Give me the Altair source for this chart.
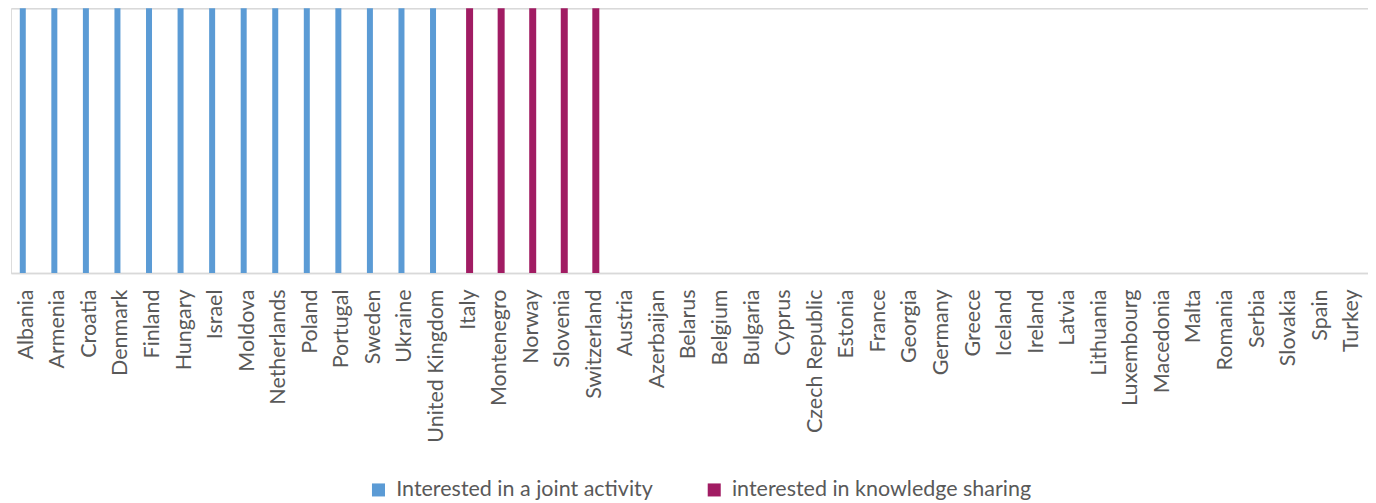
import altair as alt
import pandas as pd

countries = ["Albania", "Armenia", "Croatia", "Denmark", "Finland", "Hungary", "Israel",
             "Moldova", "Netherlands", "Poland", "Portugal", "Sweden", "Ukraine",
             "United Kingdom", "Italy", "Montenegro", "Norway", "Slovenia", "Switzerland",
             "Austria", "Azerbaijan", "Belarus", "Belgium", "Bulgaria", "Cyprus",
             "Czech Republic", "Estonia", "France", "Georgia", "Germany", "Greece",
             "Iceland", "Ireland", "Latvia", "Lithuania", "Luxembourg", "Macedonia",
             "Malta", "Romania", "Serbia", "Slovakia", "Spain", "Turkey"]
joint = [1]*14 + [0]*29
knowledge = [0]*14 + [1]*5 + [0]*24

series_names = ["Interested in a joint activity", "interested in knowledge sharing"]
series_colors = ["#5B9BD5", "#A11C63"]

rows = []
for c, j, k in zip(countries, joint, knowledge):
    rows.append({"country": c, "series": series_names[0], "value": j})
    rows.append({"country": c, "series": series_names[1], "value": k})
df = pd.DataFrame(rows)

FONT = "Lato"

base = alt.Chart(df).encode(
    x=alt.X("country:N", sort=countries, scale=alt.Scale(domain=countries, paddingInner=0, paddingOuter=0),
            axis=alt.Axis(title=None, labelAngle=-90, labelAlign="right", labelBaseline="middle",
                          ticks=False, labelPadding=16, labelFontSize=21.5, labelColor="#595959",
                          labelFont=FONT, domainColor="#D9D9D9", domainWidth=1.5, grid=False)),
    y=alt.Y("value:Q", scale=alt.Scale(domain=[0, 1], nice=False),
            axis=alt.Axis(title=None, labels=False, ticks=False, domain=False, values=[0, 1],
                          grid=True, gridColor="#D9D9D9", gridWidth=1.5)),
    color=alt.Color("series:N", scale=alt.Scale(domain=series_names, range=series_colors),
                    legend=alt.Legend(title=None, orient="none", legendX=357, legendY=471,
                                      direction="horizontal", padding=0,
                                      symbolType="square", symbolSize=170, symbolStrokeWidth=0,
                                      labelOffset=7, labelFontSize=21.5, labelColor="#595959",
                                      labelFont=FONT, columnPadding=50, labelLimit=400)),
)

blue = base.transform_filter(alt.datum.series == series_names[0]).mark_bar(size=6, xOffset=-4)
mag = base.transform_filter(alt.datum.series == series_names[1]).mark_bar(size=7, xOffset=1)

chart = alt.layer(blue, mag).properties(
    width=1358, height=265,
    padding={"left": 3, "top": 0, "right": 0, "bottom": 0},
).configure_view(stroke=None).configure(font=FONT)

chart.save("out.html", embed_options={"renderer": "svg", "actions": False})
